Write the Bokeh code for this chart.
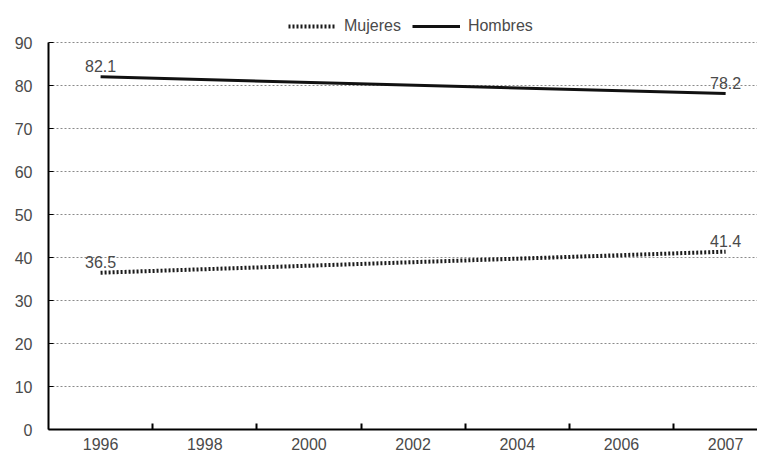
from bokeh.plotting import figure
from bokeh.models import (Range1d, FixedTicker, ColumnDataSource, Legend, LegendItem)
from bokeh.embed import file_html
from bokeh.resources import INLINE
from bokeh.core.properties import value

# ---- data ----
categories = ["1996", "1998", "2000", "2002", "2004", "2006", "2007"]
years = ["1996", "2007"]
mujeres = [36.5, 41.4]
hombres = [82.1, 78.2]
y_ticks = [0, 10, 20, 30, 40, 50, 60, 70, 80, 90]

FONT = "Liberation Sans"
TXT = "#4a4a4a"

xpos = [categories.index(y) + 0.5 for y in years]
cat_centers = [i + 0.5 for i in range(len(categories))]
cat_bounds = [i for i in range(1, len(categories))]

p = figure(width=757, height=452, output_backend="svg", toolbar_location=None,
           x_range=Range1d(0, 6.806), y_range=Range1d(0, 99.87),
           min_border_left=48, min_border_right=0, min_border_top=0,
           min_border_bottom=0)
p.outline_line_color = None
p.background_fill_color = "white"
p.border_fill_color = "white"

# x axis
p.xaxis.ticker = FixedTicker(ticks=cat_centers, minor_ticks=cat_bounds)
p.xaxis.major_label_overrides = {c: lab for c, lab in zip(cat_centers, categories)}
p.xaxis.major_tick_in = 0
p.xaxis.major_tick_out = 0
p.xaxis.minor_tick_in = 6
p.xaxis.minor_tick_out = 0
p.xaxis.minor_tick_line_color = "black"
p.xaxis.minor_tick_line_width = 2
p.xaxis.axis_line_color = "black"
p.xaxis.axis_line_width = 2
p.xaxis.major_label_standoff = 8
p.xaxis.major_label_text_font = FONT
p.xaxis.major_label_text_font_size = "16px"
p.xaxis.major_label_text_color = TXT
p.xgrid.visible = False

# y axis
p.yaxis.ticker = FixedTicker(ticks=y_ticks)
p.yaxis.bounds = (0, 90)
p.yaxis.major_tick_in = 5
p.yaxis.major_tick_out = 0
p.yaxis.minor_tick_line_color = None
p.yaxis.axis_line_color = "black"
p.yaxis.axis_line_width = 2
p.yaxis.major_label_standoff = 16
p.yaxis.major_label_text_font = FONT
p.yaxis.major_label_text_font_size = "16px"
p.yaxis.major_label_text_color = TXT
p.ygrid.ticker = FixedTicker(ticks=y_ticks[1:])
p.ygrid.grid_line_color = "#8a8a8a"
p.ygrid.grid_line_dash = "2 2"
p.ygrid.grid_line_width = 1

# lines
src_m = ColumnDataSource(dict(x=xpos, y=mujeres, t=[f"{v:.1f}" for v in mujeres]))
src_h = ColumnDataSource(dict(x=xpos, y=hombres, t=[f"{v:.1f}" for v in hombres]))

rm = p.line("x", "y", source=src_m, line_color="#1a1a1a", line_width=4, line_dash="2 2")
rh = p.line("x", "y", source=src_h, line_color="#111111", line_width=3)

for s in (src_m, src_h):
    p.text("x", "y", text="t", source=s, text_align="center", text_baseline="bottom",
           y_offset=-5, text_font=value(FONT), text_font_size="16px", text_color=TXT)

legend = Legend(items=[LegendItem(label="Mujeres", renderers=[rm]),
                       LegendItem(label="Hombres", renderers=[rh])],
                location=(240, 394), orientation="horizontal",
                glyph_width=48, glyph_height=18, label_standoff=8, spacing=11,
                padding=0, margin=0, border_line_color=None,
                background_fill_alpha=0,
                label_text_font=FONT, label_text_font_size="16px",
                label_text_color=TXT)
p.add_layout(legend, "center")

open("out.html", "w").write(file_html(p, INLINE))
